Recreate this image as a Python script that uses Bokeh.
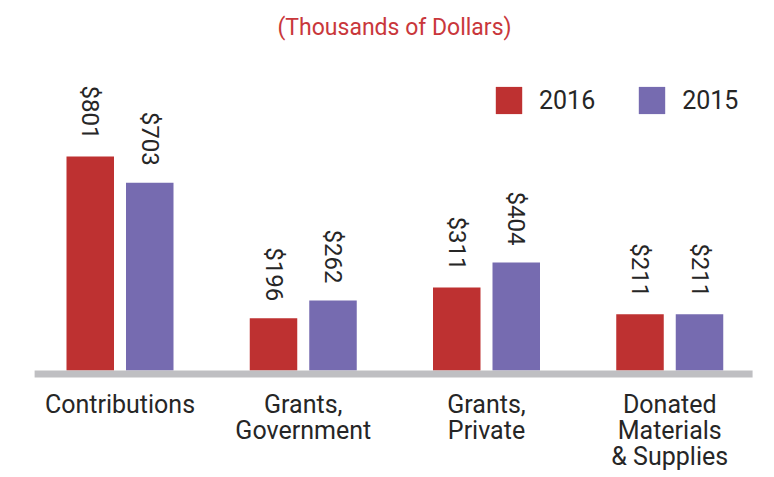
import math
from bokeh.plotting import figure
from bokeh.models import Range1d, Label, Legend, LegendItem
from bokeh.core.properties import value
from bokeh.embed import file_html
from bokeh.resources import INLINE

# ---- data ----
categories = ["Contributions", "Grants,\nGovernment", "Grants,\nPrivate", "Donated\nMaterials\n& Supplies"]
years = ["2016", "2015"]
values_2016 = [801, 196, 311, 211]
values_2015 = [703, 262, 404, 211]
title_text = "(Thousands of Dollars)"

# ---- styling ----
RED = "#be3131"
PURPLE = "#766bb0"
GRAY = "#bfbfc2"
TEXT = "#262626"
FONT = "Roboto"

W, H = 774, 477
PX_PER_CAT = 183.25          # pixels per category step
UPP = 3.743                   # value units per pixel (vertical scale)
ZERO_PX = 370                 # pixel row of the zero line from the top
x_start = -119.5 / PX_PER_CAT
x_end = x_start + W / PX_PER_CAT
y_end = ZERO_PX * UPP
y_start = -(H - ZERO_PX) * UPP

p = figure(width=W, height=H, output_backend="svg", toolbar_location=None,
           x_range=Range1d(x_start, x_end), y_range=Range1d(y_start, y_end),
           min_border=0, min_border_left=0, min_border_right=0,
           min_border_top=0, min_border_bottom=0)
p.axis.visible = False
p.xgrid.visible = False
p.ygrid.visible = False
p.outline_line_color = None
p.background_fill_color = "white"
p.border_fill_color = "white"

idx = list(range(len(categories)))
off = 29.75 / PX_PER_CAT
bw = 47.5 / PX_PER_CAT
x16 = [i - off for i in idx]
x15 = [i + off for i in idx]

r16 = p.vbar(x=x16, top=values_2016, bottom=0, width=bw, fill_color=RED, line_color=None)
r15 = p.vbar(x=x15, top=values_2015, bottom=0, width=bw, fill_color=PURPLE, line_color=None)

# baseline
p.segment(x0=[idx[0] - 0.466], x1=[idx[-1] + 0.452], y0=[-3.5 * UPP], y1=[-3.5 * UPP],
          line_color=GRAY, line_width=7)

# value labels (rotated)
gap = 17 * UPP
p.text(x=x16, y=[v + gap for v in values_2016], text=[f"${v}" for v in values_2016],
       angle=-math.pi / 2, text_align="right", text_baseline="middle",
       text_font=value(FONT), text_font_size="24px", text_color=TEXT)
p.text(x=x15, y=[v + gap for v in values_2015], text=[f"${v}" for v in values_2015],
       angle=-math.pi / 2, text_align="right", text_baseline="middle",
       text_font=value(FONT), text_font_size="24px", text_color=TEXT)

# category labels, one glyph per line
lx, ly, lt = [], [], []
for i, cat in enumerate(categories):
    for j, line in enumerate(cat.split("\n")):
        lx.append(i)
        ly.append(-(34 + 26 * j) * UPP)
        lt.append(line)
p.text(x=lx, y=ly, text=lt, text_align="center", text_baseline="alphabetic",
       text_font=value(FONT), text_font_size="25px", text_color=TEXT)

# title
p.add_layout(Label(x=394, y=H - 27, x_units="screen", y_units="screen", text=title_text,
                   text_align="center", text_baseline="alphabetic",
                   text_font=FONT, text_font_size="23px", text_color="#c9373b"))

legend = Legend(items=[LegendItem(label=years[0], renderers=[r16]),
                       LegendItem(label=years[1], renderers=[r15])],
                orientation="horizontal", location=(492, H - 117),
                glyph_width=33, glyph_height=34, label_standoff=14, spacing=40,
                padding=0, margin=0, border_line_color=None, background_fill_alpha=0,
                label_text_font=FONT, label_text_font_size="25px", label_text_color=TEXT)
p.add_layout(legend)

open("out.html", "w").write(file_html(p, INLINE))
